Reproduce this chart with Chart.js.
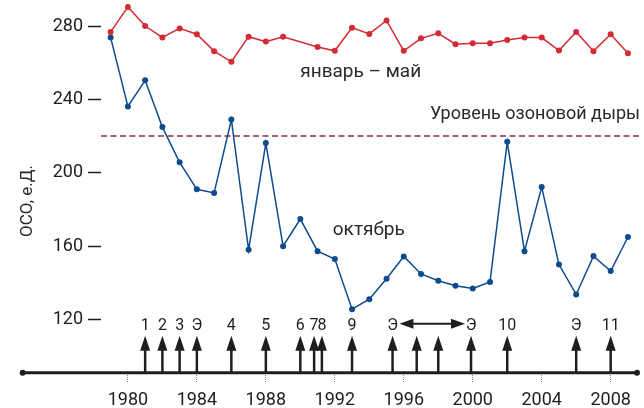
<!DOCTYPE html>
<html>
<head>
<meta charset="utf-8">
<script src="https://cdn.jsdelivr.net/npm/chart.js@4.4.1/dist/chart.umd.min.js"></script>
<style>
  html, body { margin: 0; padding: 0; background: #fff; }
  #wrap { width: 644px; height: 408px; }
</style>
</head>
<body>
<div id="wrap"><canvas id="c" width="644" height="408"></canvas></div>
<script>
// Total ozone (ОСО, Dobson units) over Antarctica
const years = [1979,1980,1981,1982,1983,1984,1985,1986,1987,1988,1989,1990,1991,1992,1993,1994,
               1995,1996,1997,1998,1999,2000,2001,2002,2003,2004,2005,2006,2007,2008,2009];
const janMay = [276.8,290.4,280,273.8,278.7,275.5,266.3,260.5,274.2,271.5,274.2,null,268.6,266.5,279.1,275.7,
                283,266.5,273.3,276,270.1,270.6,270.6,272.4,273.7,273.7,266.6,276.8,266.3,275.5,265.2];
const october = [273.7,236.2,250.4,224.9,205.7,191,189,229,158,216.2,160,174.8,157.3,153,125.7,131.1,
                 142.3,154.4,144.9,141.2,138.5,137,140.5,216.9,157.3,192.2,150,133.7,154.6,146.5,165];
const holeLevel = 220;

// Axis ticks
const xTicks = [1980,1984,1988,1992,1996,2000,2004,2008];
const yTicks = [120,160,200,240,280];
const xRange = [1978.44, 2009.7];
const yRange = [91, 292];

// Events marked with arrows along the time axis
const eventYears  = [1981,1982,1983,1984,1986,1988,1990,1990.8,1991.25,1993,1995.35,1996.75,1998,1999.9,2002,2006,2008];
const eventLabels = ['1','2','3','Э','4','5','6','7','8','9','Э','','','Э','10','Э','11'];
const periodSpan  = [1995.75, 1999.55];

const FONT = 'Roboto, "Liberation Sans", sans-serif';
const INK = '#1e1e1e';

const eventsPlugin = {
  id: 'events',
  afterDatasetsDraw(chart) {
    const { ctx, scales: { x, y } } = chart;
    const base = y.getPixelForValue(yRange[0]);
    ctx.save();

    // time axis with end dots
    ctx.strokeStyle = INK;
    ctx.fillStyle = INK;
    ctx.lineWidth = 3;
    ctx.beginPath();
    ctx.moveTo(22.7, base);
    ctx.lineTo(637, base);
    ctx.stroke();
    [22.7, 637].forEach(px => {
      ctx.beginPath();
      ctx.arc(px, base, 3, 0, Math.PI * 2);
      ctx.fill();
    });

    // event arrows and their labels
    ctx.font = '16px ' + FONT;
    ctx.textAlign = 'center';
    ctx.textBaseline = 'middle';
    eventYears.forEach((yr, i) => {
      const px = x.getPixelForValue(yr);
      ctx.lineWidth = 2.5;
      ctx.beginPath();
      ctx.moveTo(px, base);
      ctx.lineTo(px, base - 24);
      ctx.stroke();
      ctx.beginPath();
      ctx.moveTo(px, base - 37);
      ctx.lineTo(px - 5, base - 22);
      ctx.lineTo(px + 5, base - 22);
      ctx.closePath();
      ctx.fill();
      if (eventLabels[i]) ctx.fillText(eventLabels[i], px, base - 47);
    });

    // double-headed period arrow
    const x0 = x.getPixelForValue(periodSpan[0]);
    const x1 = x.getPixelForValue(periodSpan[1]);
    const py = base - 49;
    ctx.lineWidth = 2;
    ctx.beginPath();
    ctx.moveTo(x0 + 10, py);
    ctx.lineTo(x1 - 10, py);
    ctx.stroke();
    ctx.beginPath();
    ctx.moveTo(x0, py); ctx.lineTo(x0 + 14, py - 5); ctx.lineTo(x0 + 14, py + 5); ctx.closePath();
    ctx.fill();
    ctx.beginPath();
    ctx.moveTo(x1, py); ctx.lineTo(x1 - 14, py - 5); ctx.lineTo(x1 - 14, py + 5); ctx.closePath();
    ctx.fill();

    // series and threshold captions
    ctx.fillStyle = '#2a2a2a';
    ctx.font = '19px ' + FONT;
    ctx.textAlign = 'center';
    ctx.fillText('январь – май', x.getPixelForValue(1993.5), y.getPixelForValue(254.8));
    ctx.fillText('октябрь', x.getPixelForValue(1993.97), y.getPixelForValue(168.8));
    ctx.font = '18px ' + FONT;
    ctx.textAlign = 'right';
    ctx.fillText('Уровень озоновой дыры', chart.chartArea.right, y.getPixelForValue(232));

    // vertical axis title
    ctx.font = '17px ' + FONT;
    ctx.textAlign = 'center';
    ctx.translate(28, 201);
    ctx.rotate(-Math.PI / 2);
    ctx.fillText('ОСО, е.Д.', 0, 0);
    ctx.restore();
  }
};

// keep the plot area at exactly the layout size (no extra room for edge labels)
function noEdgePadding(s) {
  s.paddingTop = 0; s.paddingBottom = 0; s.paddingLeft = 0; s.paddingRight = 0;
}

new Chart(document.getElementById('c'), {
  type: 'line',
  data: {
    datasets: [
      {
        label: 'январь – май',
        data: years.map((yr, i) => ({ x: yr, y: janMay[i] })),
        borderColor: '#d42a33',
        backgroundColor: '#d42a33',
        borderWidth: 1.5,
        pointRadius: 3,
        pointBorderWidth: 0,
        spanGaps: true,
        tension: 0
      },
      {
        label: 'октябрь',
        data: years.map((yr, i) => ({ x: yr, y: october[i] })),
        borderColor: '#0d4c8c',
        backgroundColor: '#0d4c8c',
        borderWidth: 1.5,
        pointRadius: 3,
        pointBorderWidth: 0,
        tension: 0
      },
      {
        label: 'Уровень озоновой дыры',
        data: [{ x: xRange[0], y: holeLevel }, { x: xRange[1], y: holeLevel }],
        borderColor: '#8e3040',
        borderWidth: 1.5,
        borderDash: [6, 3.5],
        pointRadius: 0
      }
    ]
  },
  options: {
    responsive: false,
    animation: false,
    events: [],
    layout: { padding: { top: 1, right: 4, left: 0, bottom: 0 } },
    plugins: { legend: { display: false }, tooltip: { enabled: false } },
    scales: {
      x: {
        type: 'linear',
        min: xRange[0],
        max: xRange[1],
        afterBuildTicks: s => { s.ticks = xTicks.map(v => ({ value: v })); },
        afterFit: s => { s.height = 35.2; noEdgePadding(s); },
        border: { display: false },
        grid: {
          drawOnChartArea: false,
          drawTicks: true,
          tickLength: 10,
          tickColor: '#8a8a8a',
          tickWidth: 1,
          tickBorderDash: [1, 1]
        },
        ticks: {
          color: INK,
          font: { family: FONT, size: 18 },
          padding: 7,
          maxRotation: 0,
          callback: v => String(v)
        }
      },
      y: {
        min: yRange[0],
        max: yRange[1],
        afterBuildTicks: s => { s.ticks = yTicks.map(v => ({ value: v })); },
        afterFit: s => { s.width = 101; noEdgePadding(s); },
        border: { display: false },
        grid: {
          drawOnChartArea: false,
          drawTicks: true,
          tickLength: 13,
          tickColor: INK,
          tickWidth: 1.5
        },
        ticks: {
          color: INK,
          font: { family: FONT, size: 18 },
          padding: 5,
          callback: v => String(v)
        }
      }
    }
  },
  plugins: [eventsPlugin]
});
</script>
</body>
</html>
